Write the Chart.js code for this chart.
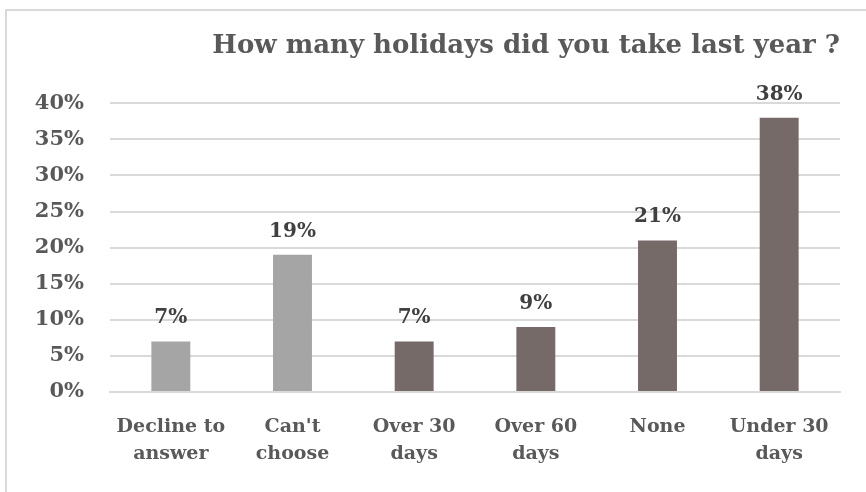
<!DOCTYPE html>
<html>
<head>
<meta charset="utf-8">
<script src="https://cdn.jsdelivr.net/npm/chart.js@4/dist/chart.umd.min.js"></script>
<style>
  html, body { margin: 0; padding: 0; background: #ffffff; }
  #wrap { position: relative; width: 866px; height: 492px; overflow: hidden; }
  #frame { position: absolute; left: 5px; top: 9px; width: 900px; height: 520px;
           border-left: 2px solid #d9d9d9; border-top: 2px solid #d9d9d9; }
  canvas { position: absolute; left: 0; top: 0; }
</style>
</head>
<body>
<div id="wrap">
  <div id="frame"></div>
  <canvas id="chart" width="866" height="492"></canvas>
</div>
<script>
// Survey answers and their shares (percent)
const categories = [["Decline to", "answer"], ["Can't", "choose"], ["Over 30", "days"], ["Over 60", "days"], ["None"], ["Under 30", "days"]];
const shares = [7, 19, 7, 9, 21, 38];
const barColors = ["#a5a5a5", "#a5a5a5", "#756a68", "#756a68", "#756a68", "#756a68"];
const yTicks = [0, 5, 10, 15, 20, 25, 30, 35, 40];

const FONT = "'DejaVu Serif', 'Liberation Serif', serif";

// Writes each bar's value just above it
const valueLabels = {
  id: 'valueLabels',
  afterDatasetsDraw(chart) {
    const ctx = chart.ctx;
    const meta = chart.getDatasetMeta(0);
    ctx.save();
    ctx.font = "bold 20px " + FONT;
    ctx.fillStyle = "#404040";
    ctx.textAlign = "center";
    ctx.textBaseline = "alphabetic";
    meta.data.forEach((bar, i) => {
      ctx.fillText(shares[i] + "%", bar.x, bar.y - 18);
    });
    ctx.restore();
  }
};

new Chart(document.getElementById('chart'), {
  type: 'bar',
  data: {
    labels: categories,
    datasets: [{
      data: shares,
      backgroundColor: barColors,
      barPercentage: 0.4,
      categoryPercentage: 0.8
    }]
  },
  options: {
    responsive: false,
    animation: false,
    layout: { padding: { left: 0, right: 26, top: 31, bottom: 0 } },
    plugins: {
      legend: { display: false },
      tooltip: { enabled: false },
      title: {
        display: true,
        text: "How many holidays did you take last year ?",
        align: 'end',
        color: "#595959",
        font: { family: FONT, size: 26, weight: 'bold', lineHeight: 1.2 },
        padding: { top: 0, bottom: 41 }
      }
    },
    scales: {
      x: {
        afterFit(axis) { axis.height = 100; },
        grid: { display: false, drawTicks: false },
        border: { display: true, color: "#d9d9d9", width: 2 },
        ticks: {
          color: "#595959",
          font: { family: FONT, size: 19, weight: 'bold', lineHeight: 1.4 },
          padding: 22,
          maxRotation: 0,
          autoSkip: false
        }
      },
      y: {
        min: 0,
        max: 40,
        afterBuildTicks(axis) { axis.ticks = yTicks.map(v => ({ value: v })); },
        afterFit(axis) { axis.width = 110; },
        grid: { color: "#d9d9d9", lineWidth: 2, drawTicks: false },
        border: { display: false },
        ticks: {
          color: "#595959",
          font: { family: FONT, size: 21, weight: 'bold' },
          padding: 26,
          callback: v => v + "%"
        }
      }
    }
  },
  plugins: [valueLabels]
});
</script>
</body>
</html>
